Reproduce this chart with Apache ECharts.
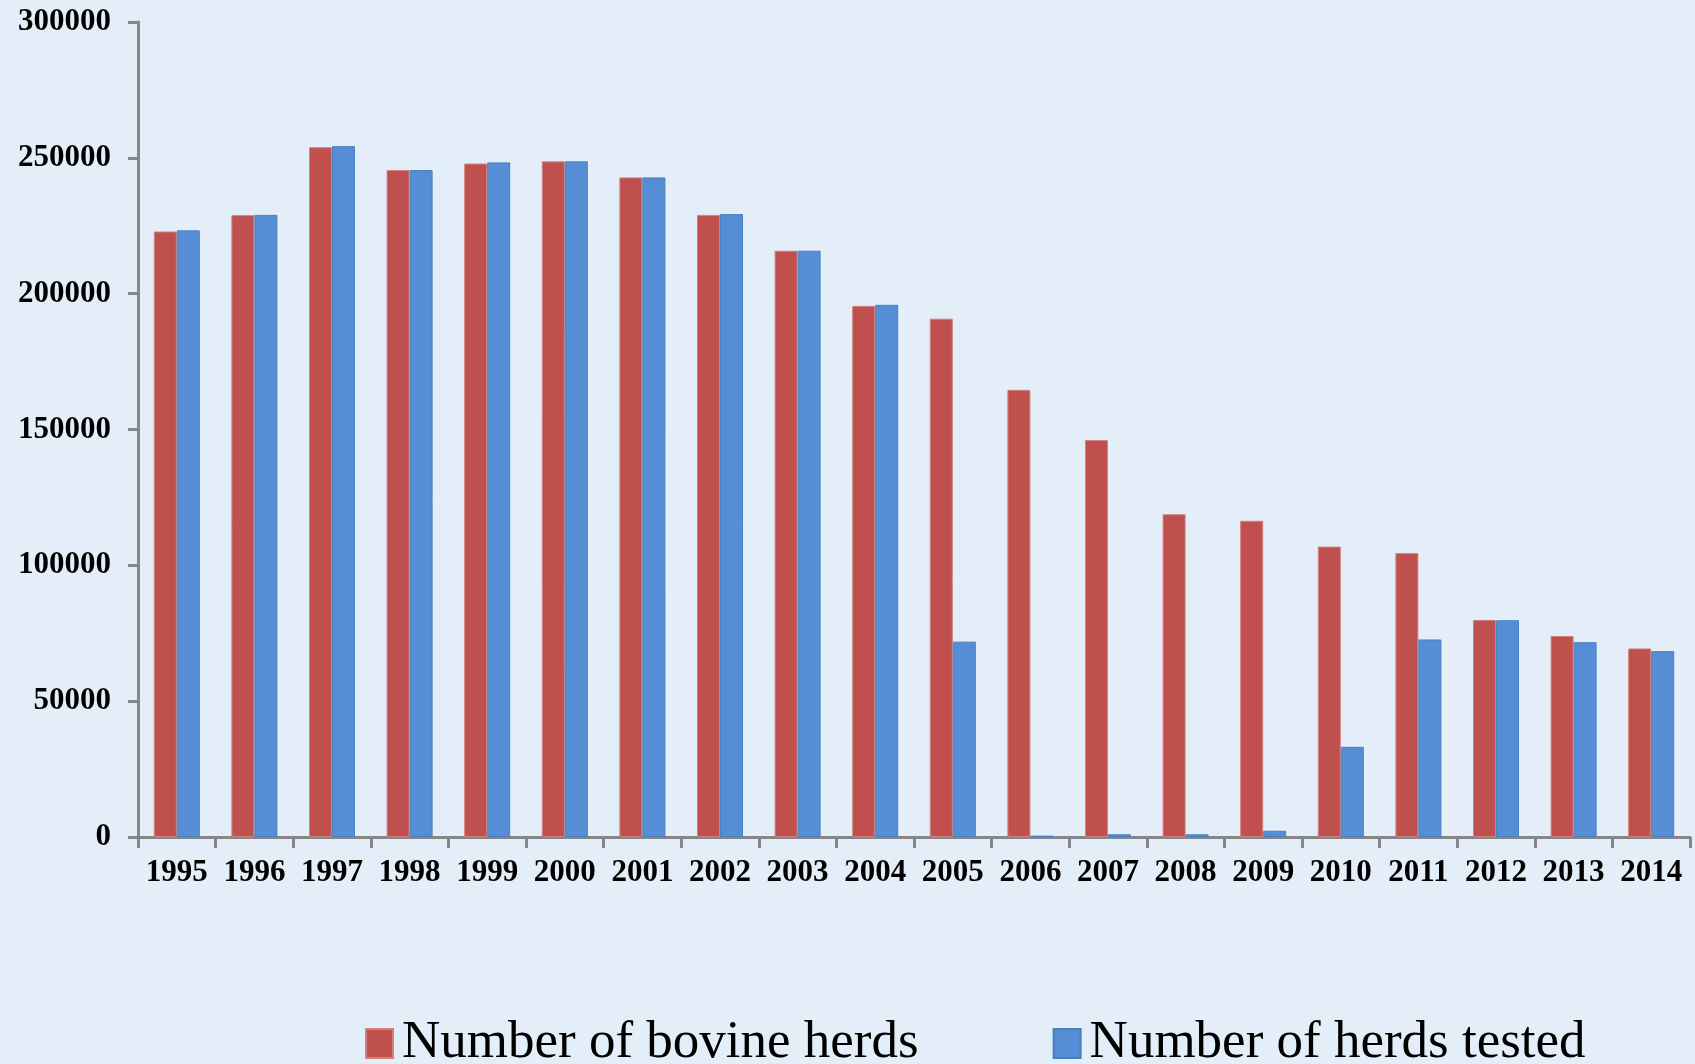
<!DOCTYPE html>
<html>
<head>
<meta charset="utf-8">
<script src="https://cdn.jsdelivr.net/npm/echarts@6/dist/echarts.min.js"></script>
<style>
  html, body { margin: 0; padding: 0; background: #e4eef8; }
  #chart { width: 1695px; height: 1064px; }
</style>
</head>
<body>
<div id="chart"></div>
<script>
const years = ['1995', '1996', '1997', '1998', '1999', '2000', '2001', '2002', '2003', '2004',
  '2005', '2006', '2007', '2008', '2009', '2010', '2011', '2012', '2013', '2014']

const bovineHerds = [222900, 228900, 253900, 245500, 247900, 248700, 242800, 229000, 215800, 195500,
  190800, 164600, 146100, 118800, 116400, 106900, 104500, 79900, 74000, 69400]

const herdsTested = [223300, 229000, 254300, 245500, 248300, 248700, 242800, 229300, 215800, 195900,
  71900, 500, 1000, 1000, 2300, 33200, 72700, 79800, 71700, 68400]

const yTicks = [0, 50000, 100000, 150000, 200000, 250000, 300000]

const chart = echarts.init(document.getElementById('chart'))

const axisFont = {
  fontFamily: 'Liberation Serif',
  fontWeight: 'bold',
  fontSize: 31,
  color: '#000'
}

const axisGrey = { color: '#868686', width: 3 }

const option = {
  backgroundColor: '#e4eef8',
  animation: false,
  grid: {
    left: 138,
    right: 5,
    top: 22,
    bottom: 227
  },
  legend: {
    left: 360,
    top: 1012,
    itemWidth: 27,
    itemHeight: 29,
    itemGap: 134,
    icon: 'rect',
    textStyle: {
      fontFamily: 'Liberation Serif',
      fontSize: 53,
      color: '#000',
      padding: [0, 0, 0, 4]
    },
    data: ['Number of bovine herds', 'Number of herds tested']
  },
  xAxis: {
    type: 'category',
    data: years,
    axisLine: { lineStyle: axisGrey },
    axisTick: { show: true, length: 11, lineStyle: axisGrey },
    axisLabel: Object.assign({ margin: 20, interval: 0 }, axisFont),
    splitLine: { show: false }
  },
  yAxis: {
    type: 'value',
    min: yTicks[0],
    max: yTicks[yTicks.length - 1],
    interval: 50000,
    axisLine: { show: true, lineStyle: axisGrey },
    axisTick: { show: true, length: 10, lineStyle: axisGrey },
    axisLabel: Object.assign({ margin: 27, formatter: v => String(v) }, axisFont),
    splitLine: { show: false }
  },
  series: [
    {
      name: 'Number of bovine herds',
      type: 'bar',
      data: bovineHerds,
      barWidth: 23,
      barGap: '0%',
      itemStyle: { color: '#c0504d', borderColor: '#d0807d', borderWidth: 1 }
    },
    {
      name: 'Number of herds tested',
      type: 'bar',
      data: herdsTested,
      barWidth: 23,
      barGap: '0%',
      itemStyle: { color: '#558ed5', borderColor: '#4a7fc0', borderWidth: 1 }
    }
  ]
}

chart.setOption(option)
</script>
</body>
</html>
